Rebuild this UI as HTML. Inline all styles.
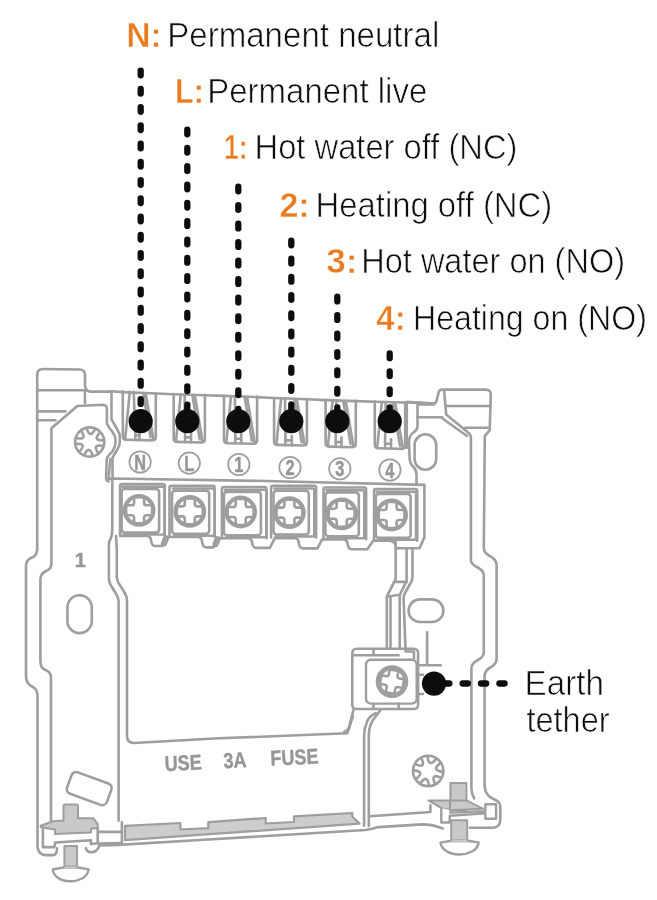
<!DOCTYPE html>
<html lang="en"><head><meta charset="utf-8"><title>Wiring terminals</title>
<style>
html,body{margin:0;padding:0;background:#fff}
svg{display:block}
text{font-family:"Liberation Sans",sans-serif}
.k{font-size:35.5px;fill:#0d0d0d;stroke:#fff;stroke-width:.7px}
.o{font-size:35.5px;fill:#ea7b20;font-weight:bold;stroke:#fff;stroke-width:.5px}
.g{fill:none;stroke:#9e9e9e;stroke-width:2.6;stroke-linecap:round;stroke-linejoin:round}
.gf{fill:#c9c9c9;stroke:#9e9e9e;stroke-width:2;stroke-linejoin:round}
.f{fill:#c5c5c5;stroke:none}
.gfo{fill:#cdcdcd;stroke:#9e9e9e;stroke-width:2.2;stroke-linejoin:round}
.g2{fill:none;stroke:#9e9e9e;stroke-width:2.4;stroke-linecap:round}
.w{fill:#fff;stroke:#9e9e9e;stroke-width:2.4;stroke-linejoin:round}
.d{fill:none;stroke:#0d0d0d;stroke-width:6.3;stroke-linecap:round}
.dot{fill:#0d0d0d}
.gt{fill:none;stroke:#9e9e9e;stroke-width:1.7}
.lab{font-size:21.5px;fill:#969696;stroke:#969696;stroke-width:.5px;font-weight:bold;text-anchor:middle}
.fu{font-size:21.5px;fill:#969696;stroke:#969696;stroke-width:.4px;font-weight:bold}
</style></head>
<body>
<svg width="657" height="900" viewBox="0 0 657 900">
<rect width="657" height="900" fill="#fff"/>
<g id="art" style="filter:opacity(1)">
<path class="g" d="M122.8 391.3V436.3Q122.8 439.8 126.3 439.8L152.3 440.40000000000003Q155.8 440.40000000000003 155.8 436.8V393.5"/>
<path class="g" d="M129.8 391.8L125.2 438.3"/>
<path class="g" d="M145.8 394.0L153.3 438.6"/>
<path class="g" d="M143.5 395.0L150.60000000000002 437.3"/>
<path class="g" d="M133.7 391.8L135.3 431.8V439.8"/>
<path class="g" d="M139.4 430.8V440.1"/>
<path class="g" d="M135.3 435.3H139.4"/>
<path class="g" d="M173.7 394.0V438.4Q173.7 441.9 177.2 441.9L201.4 442.5Q204.9 442.5 204.9 438.9V394.9"/>
<path class="g" d="M180.7 394.5L176.1 440.4"/>
<path class="g" d="M194.9 395.4L202.4 440.7"/>
<path class="g" d="M192.6 396.4L199.70000000000002 439.4"/>
<path class="g" d="M184.6 394.5L185.1 433.9V441.9"/>
<path class="g" d="M191.0 432.9V442.2"/>
<path class="g" d="M185.1 437.4H191.0"/>
<path class="g" d="M224.0 395.7V439.7Q224.0 443.2 227.5 443.2L253.60000000000002 443.8Q257.1 443.8 257.1 440.2V396.6"/>
<path class="g" d="M231.0 396.2L226.4 441.7"/>
<path class="g" d="M247.10000000000002 397.1L254.60000000000002 442.0"/>
<path class="g" d="M244.8 398.1L251.90000000000003 440.7"/>
<path class="g" d="M234.9 396.2L235.3 435.2V443.2"/>
<path class="g" d="M241.2 434.2V443.5"/>
<path class="g" d="M235.3 438.7H241.2"/>
<path class="g" d="M274.1 398.2V441.4Q274.1 444.9 277.6 444.9L303.4 445.5Q306.9 445.5 306.9 441.9V399.1"/>
<path class="g" d="M281.1 398.7L276.5 443.4"/>
<path class="g" d="M296.9 399.6L304.4 443.7"/>
<path class="g" d="M294.59999999999997 400.6L301.7 442.4"/>
<path class="g" d="M285.0 398.7L285.4 436.9V444.9"/>
<path class="g" d="M291.8 435.9V445.2"/>
<path class="g" d="M285.4 440.4H291.8"/>
<path class="g" d="M325.6 399.9V443.1Q325.6 446.6 329.1 446.6L352.3 447.20000000000005Q355.8 447.20000000000005 355.8 443.6V400.7"/>
<path class="g" d="M332.6 400.4L328.0 445.1"/>
<path class="g" d="M345.8 401.2L353.3 445.40000000000003"/>
<path class="g" d="M343.5 402.2L350.6 444.1"/>
<path class="g" d="M336.5 400.4L335.7 438.6V446.6"/>
<path class="g" d="M341.5 437.6V446.90000000000003"/>
<path class="g" d="M335.7 442.1H341.5"/>
<path class="g" d="M374.8 401.6V444.8Q374.8 448.3 378.3 448.3L401.7 448.90000000000003Q405.2 448.90000000000003 405.2 445.3V402.4"/>
<path class="g" d="M381.8 402.1L377.2 446.8"/>
<path class="g" d="M395.2 402.9L402.7 447.1"/>
<path class="g" d="M392.9 403.9L400.0 445.8"/>
<path class="g" d="M385.7 402.1L385.1 440.3V448.3"/>
<path class="g" d="M391.0 439.3V448.6"/>
<path class="g" d="M385.1 443.8H391.0"/>
<path class="g" d="M109 391.6Q111 391.6 111.5 391.2L123 392.1L156 393.5L174 394.2L205 395.2L224 395.9L257 397.1L274 398L307 399.3L326 400.1L356 401.1L375 401.8L405 402.5L416 402.7L433 403.5"/>
<circle class="gt" cx="140.1" cy="462.0" r="10.7"/>
<text class="lab" transform="translate(140.1 469.6) scale(.76 1)">N</text>
<circle class="gt" cx="189.3" cy="463.1" r="10.7"/>
<text class="lab" transform="translate(189.3 470.70000000000005) scale(.76 1)">L</text>
<circle class="gt" cx="238.8" cy="464.5" r="10.7"/>
<text class="lab" transform="translate(238.8 472.1) scale(.76 1)">1</text>
<circle class="gt" cx="290.0" cy="467.5" r="10.7"/>
<text class="lab" transform="translate(290.0 475.1) scale(.76 1)">2</text>
<circle class="gt" cx="339.8" cy="468.8" r="10.7"/>
<text class="lab" transform="translate(339.8 476.40000000000003) scale(.76 1)">3</text>
<circle class="gt" cx="389.9" cy="470.0" r="10.7"/>
<text class="lab" transform="translate(389.9 477.6) scale(.76 1)">4</text>
<path class="g" d="M120.1 535.6V486.1Q120.1 484.1 122.1 484.1H162.7Q164.7 484.1 164.7 486.1V535.6"/>
<path class="g" d="M122.6 486.8H163.1Q164.6 486.8 164.6 489.0V534.6"/>
<rect class="g" x="121.6" y="489.0" width="37.5" height="43.60000000000002" rx="3" />
<path class="g2" d="M123.6 534.6H163.1"/>
<circle class="g" cx="139.1" cy="510.3" r="15.1"/>
<circle class="g" cx="139.1" cy="510.3" r="13.5"/>
<path class="g" d="M134.1 497.3H144.1V502.7Q144.1 505.3 146.7 505.3H152.1V515.3H146.7Q144.1 515.3 144.1 517.9V523.3H134.1V517.9Q134.1 515.3 131.5 515.3H126.1V505.3H131.5Q134.1 505.3 134.1 502.7Z"/>
<path class="g" d="M169.5 536.8V487.8Q169.5 485.8 171.5 485.8H212.6Q214.6 485.8 214.6 487.8V536.8"/>
<path class="g" d="M173.0 488.5H213.2Q214.7 488.5 214.7 490.7V535.8"/>
<rect class="g" x="172.0" y="490.7" width="37.19999999999999" height="43.099999999999966" rx="3" />
<path class="g2" d="M174.0 535.8H213.2"/>
<circle class="g" cx="189.8" cy="511.4" r="15.1"/>
<circle class="g" cx="189.8" cy="511.4" r="13.5"/>
<path class="g" d="M184.8 498.4H194.8V503.79999999999995Q194.8 506.4 197.4 506.4H202.8V516.4H197.4Q194.8 516.4 194.8 519.0V524.4H184.8V519.0Q184.8 516.4 182.20000000000002 516.4H176.8V506.4H182.20000000000002Q184.8 506.4 184.8 503.79999999999995Z"/>
<path class="g" d="M221.9 538.3V489.0Q221.9 487.0 223.9 487.0H264.5Q266.5 487.0 266.5 489.0V538.3"/>
<path class="g" d="M224.9 489.7H264.9Q266.4 489.7 266.4 491.9V537.3"/>
<rect class="g" x="223.9" y="491.9" width="36.99999999999997" height="43.39999999999998" rx="3" />
<path class="g2" d="M225.9 537.3H264.9"/>
<circle class="g" cx="240.7" cy="512.0" r="15.1"/>
<circle class="g" cx="240.7" cy="512.0" r="13.5"/>
<path class="g" d="M235.7 499.0H245.7V504.4Q245.7 507.0 248.29999999999998 507.0H253.7V517.0H248.29999999999998Q245.7 517.0 245.7 519.6V525.0H235.7V519.6Q235.7 517.0 233.1 517.0H227.7V507.0H233.1Q235.7 507.0 235.7 504.4Z"/>
<path class="g" d="M271.1 537.5V487.8Q271.1 485.8 273.1 485.8H314.1Q316.1 485.8 316.1 487.8V537.5"/>
<path class="g" d="M274.5 488.5H312.8Q314.3 488.5 314.3 490.7V536.5"/>
<rect class="g" x="273.5" y="490.7" width="35.30000000000001" height="43.80000000000001" rx="3" />
<path class="g2" d="M275.5 536.5H312.8"/>
<circle class="g" cx="289.4" cy="512.6" r="15.1"/>
<circle class="g" cx="289.4" cy="512.6" r="13.5"/>
<path class="g" d="M284.4 499.6H294.4V505.0Q294.4 507.6 297.0 507.6H302.4V517.6H297.0Q294.4 517.6 294.4 520.2V525.6H284.4V520.2Q284.4 517.6 281.79999999999995 517.6H276.4V507.6H281.79999999999995Q284.4 507.6 284.4 505.0Z"/>
<path class="g" d="M323.5 539.2V489.5Q323.5 487.5 325.5 487.5H364.1Q366.1 487.5 366.1 489.5V539.2"/>
<path class="g" d="M326.4 490.2H362.8Q364.3 490.2 364.3 492.4V538.2"/>
<rect class="g" x="325.4" y="492.4" width="33.400000000000034" height="43.80000000000007" rx="3" />
<path class="g2" d="M327.4 538.2H362.8"/>
<circle class="g" cx="341.7" cy="513.8" r="15.1"/>
<circle class="g" cx="341.7" cy="513.8" r="13.5"/>
<path class="g" d="M336.7 500.79999999999995H346.7V506.19999999999993Q346.7 508.79999999999995 349.3 508.79999999999995H354.7V518.8H349.3Q346.7 518.8 346.7 521.4V526.8H336.7V521.4Q336.7 518.8 334.09999999999997 518.8H328.7V508.79999999999995H334.09999999999997Q336.7 508.79999999999995 336.7 506.19999999999993Z"/>
<path class="g" d="M374.1 540.7V491.0Q374.1 489.0 376.1 489.0H415.2Q417.2 489.0 417.2 491.0V540.7"/>
<path class="g" d="M376.8 491.7H414.6Q416.1 491.7 416.1 493.9V539.7"/>
<rect class="g" x="375.8" y="493.9" width="34.80000000000001" height="43.80000000000007" rx="3" />
<path class="g2" d="M377.8 539.7H414.6"/>
<circle class="g" cx="391.6" cy="515.0" r="15.1"/>
<circle class="g" cx="391.6" cy="515.0" r="13.5"/>
<path class="g" d="M386.6 502.0H396.6V507.4Q396.6 510.0 399.20000000000005 510.0H404.6V520.0H399.20000000000005Q396.6 520.0 396.6 522.6V528.0H386.6V522.6Q386.6 520.0 384.0 520.0H378.6V510.0H384.0Q386.6 510.0 386.6 507.4Z"/>
<path class="g" d="M108.9 478.9L112.3 478.5L265 481L424.4 484.9V537.4L419.5 548.3H396"/>
<path class="g" d="M120.1 536H147.6Q150.5 536.5 151 540Q151.5 545.8 155 546H162.2L165.9 537H198.8Q201.5 537.5 202 541Q202.5 547.2 206 547.4H213.4L217.5 538.2H248.7Q251.5 538.7 252 542Q252.5 547.7 256 547.9H269.9L274.7 538.2H295.4Q298.2 538.7 298.7 542Q299.2 548.2 302.7 548.4H317.4L322.2 539.4H344.2Q347 539.9 347.5 543.2Q348 549 351.5 549.2H367.3L373.4 540.6H389.2Q395.3 541 395.7 546"/>
<rect class="g" x="163.2" y="536.3" width="3.6" height="9" rx="1.8" transform="rotate(22 165.0 540.8)"/>
<rect class="g" x="214.79999999999998" y="537.1" width="3.6" height="9" rx="1.8" transform="rotate(22 216.6 541.6)"/>
<circle class="g" cx="89.7" cy="442.0" r="14.6"/>
<path class="g" d="M102.6 446.1Q92.1 443.7 98.0 452.8M92.6 455.3Q89.4 444.9 84.5 454.6M79.7 451.2Q87.1 443.2 76.2 443.8M76.8 437.9Q87.3 440.3 81.4 431.2M86.8 428.7Q90.0 439.1 94.9 429.4M99.7 432.8Q92.3 440.8 103.2 440.2"/>
<circle class="g" cx="428.2" cy="771.0" r="15.2"/>
<path class="g" d="M440.7 777.6Q430.3 773.1 434.8 783.5M428.8 785.1Q427.4 773.9 420.6 782.9M416.3 778.6Q425.3 771.8 414.1 770.4M415.7 764.4Q426.1 768.9 421.6 758.5M427.6 756.9Q429.0 768.1 435.8 759.1M440.1 763.4Q431.1 770.2 442.3 771.6"/>
<path class="g" d="M37.2 549Q37 556 31 558Q26.2 560 26 566V676Q26.2 683 31 686Q37 688 37.5 695V846.8Q38.6 855 46 855.1H52.9Q57 855 57 848.2"/>
<path class="g" d="M37.2 549V375Q37.2 369 43 369L79.4 369.5Q85 369.6 85 375V384.7Q85 391.6 91.2 391.6H109"/>
<path class="g" d="M37.4 390.2H84.9V403.5"/>
<path class="g" d="M37.4 411.4H65.5M37.4 420.3H55.6"/>
<path class="g" d="M51 820.8V678Q51 672 45.5 670Q40.4 668 40.4 661.3V579Q40.4 574 46 571Q51.4 569 51.4 563.8V428.2L77.4 406L103.1 404.7Q106.9 404.7 106.9 409.4V423.5Q108.5 427.5 112.3 431.7Q115.6 436 115.6 441Q115.6 446.5 112.5 451.5Q107.5 456 106.7 459L106.1 477.5Q106.2 481 108.6 481.4"/>
<path class="g" d="M111.5 391.2V419.5Q114.5 424 119.3 433.5Q120.6 441 119 446Q116.8 451.5 112.5 457.5V478.5"/>
<path class="g" d="M110.3 459L108.6 478"/>
<text class="fu" style="font-size:20px" x="74.8" y="566.5">1</text>
<rect class="g" x="67.4" y="595.3" width="24.4" height="37.8" rx="12.2" />
<path class="g" d="M112.3 480V529.4Q112 537 110 540Q108.9 542 108.9 545.2V579Q109 582.8 111.5 586.5L116.5 594.5Q118.6 598 118.6 601V820.8"/>
<path class="g" d="M116 536L116.8 549.1V577.5Q117 580.8 119.5 584.5L124.5 592.5Q126.9 596.6 127 600V736Q127 743 134 743L219 738.3L347.3 733.3L353 716"/>
<path class="g" d="M391.8 539.4Q395.7 540 395.7 543.3V578.9L386.8 596.7V648"/>
<path class="g" d="M395.7 581.9H406.6M386.8 596.7L397.7 595"/>
<path class="g" d="M406.6 549.3V580.9L399.7 595V648"/>
<path class="g" d="M412.5 549.3V577Q412.5 581 410 584L405.5 592Q403.6 595 403.6 599L405.6 651.5H414V658.4"/>
<path class="g" d="M390.5 597V648"/>
<rect class="g" x="352.3" y="648.8" width="65.8" height="60.2" rx="4" />
<rect class="w" x="366" y="659.7" width="50.7" height="43.9" rx="5" />
<path class="g" d="M353 655.3H398.6M373.5 649.3V655.3M373.5 704V709M398.6 704V709"/>
<circle class="g" cx="392" cy="681.6" r="15.0"/>
<circle class="g" cx="392" cy="681.6" r="12.8"/>
<g transform="rotate(10 392 681.8)">
<path class="g" d="M387.6 670.1H396.4V675.2Q396.4 677.2 398.4 677.2H403.5V686.0H398.4Q396.4 686.0 396.4 688.0V693.1H387.6V688.0Q387.6 686.0 385.6 686.0H380.5V677.2H385.6Q387.6 677.2 387.6 675.2Z"/>
</g>
<path class="g" d="M427.1 632.3V665.2M419.5 665.2H440.8M418.1 674.8H423M418.1 694H423"/>
<path class="g" d="M353.7 709L349 727Q348 731 344 732"/>
<path class="g" d="M375.6 713.2Q369 716 367 722Q364.1 728 364.1 735V825.8"/>
<path class="g" d="M381 709.5Q376 716 373 720Q368.8 727 368.8 735V826"/>
<path class="g" d="M407.2 401.9L433.3 403.5Q436 403.5 436.5 401L438.7 392Q439.3 389.6 443.2 389.6H485.5Q490.9 389.6 490.8 395L489.7 430.2L484.8 436.1L483.8 548Q483.8 552.5 489 555.5Q496.4 559 496.6 565V659Q496.4 664 491 667Q484.6 670.5 484.6 676V786Q485 793 490 797Q496 800 499 802.5Q500.3 804 500.3 807V820Q500 827.3 493 827.8H470"/>
<path class="g" d="M444.2 391.6L446.2 414.4L469 433.2Q470.9 435 470.9 438V560Q471 564 476 566.5Q483.6 570 483.8 575V653Q483.6 657 478 660Q471.4 663.5 471.4 668V788Q471.5 794 474.2 798.4"/>
<path class="g" d="M446.2 406H489.7M465 427.8H487.7"/>
<path class="g" d="M442.2 418.3L467 436"/>
<path class="g" d="M418.5 404.5H434M417.5 417.3H442.2"/>
<path class="g" d="M406.8 403V448"/>
<path class="g" d="M417.5 404.5V426Q417.5 430 414 432Q409.5 435 409 441L409.6 458Q410 464 413.5 467Q416.5 470 416.5 475V483.6"/>
<rect class="g" x="414.6" y="434.3" width="21.6" height="35.4" rx="10.8" />
<rect class="g" x="408.6" y="599.4" width="34.8" height="22.6" rx="11.3" />
<path class="g" d="M85.8 848.2Q87 852.3 91 852.3Q97 852.3 99.5 845.5L118.6 844.9L200 840L365.7 830Q372 829 378.4 827.1L422.2 824.4Q433 824.5 442.7 828.5"/>
<path class="gfo" d="M125 825.8L180.4 823V829.5L208.3 828.2V822.2L265.7 818V823.5L294 822V816.4L352.3 813V816.5L359.5 823.6L125 840.2Z"/>
<path class="g" d="M121.9 822V843.5"/>
<path class="g" d="M370.1 816.2L430.4 812V805.2"/>
<path class="gf" d="M63.5 806Q63.5 804.5 65 804.5H76.5Q78 804.5 78 806V818.2H93.2L97.7 824.2V828L90.9 828.8V832.6L55.1 834.1V829.6L40.7 827.3V825.8L52.8 821.2L63.5 820.4Z"/>
<path class="g" d="M42.9 829.6V847.1H54.4L55.1 842.5L90.9 840.2V844L97.7 843.3V828"/>
<path class="g" d="M98.5 831.9H121M98.5 843.6L121 843"/>
<rect class="gf" x="64.4" y="846" width="12.6" height="20.5" rx="0" />
<path class="w" d="M52.8 869.5Q70 865 88.6 869.3Q88 875 82 878.5Q76 881.5 70 881.3Q62 881 57.5 877.5Q53 874 52.8 869.5Z"/>
<path class="f" d="M64.4 866.5H77V869H64.4Z"/>
<rect class="g" x="-21.2" y="-11.4" width="42.4" height="22.8" rx="5" transform="translate(89.2 788.6) rotate(20)"/>
<rect class="gf" x="450.4" y="782.9" width="16" height="27" rx="0" />
<path class="gf" d="M428.4 800.4H450.4L449.7 810.3L441.5 808.2Z"/>
<path class="gf" d="M466.4 800.4L483.2 808.8L449.7 810.3L450.4 800.4Z"/>
<path class="w" d="M441.3 808V822.5H449.7V815.7L485.4 813.4V818.7H496.1V804.2H485.4V811.1L450.4 812.6V810.3"/>
<rect class="gf" x="451.2" y="820.2" width="16" height="21.3" rx="0" />
<path class="w" d="M440.5 842.6Q459 838.5 478.6 842.4Q478.3 847.5 473 851Q466 854.7 459 854.5Q451 854.3 446 850.7Q441 847.5 440.5 842.6Z"/>
<path class="f" d="M451.2 840H467.2V842.6H451.2Z"/>
<text class="fu" transform="translate(165 771.2) rotate(-2.9) scale(.84 1)"><tspan>USE</tspan><tspan x="70">3A</tspan><tspan x="126">FUSE</tspan></text>
</g>
<g id="leaders">
<path class="d" stroke-dasharray="4.70 13.56" d="M140.7 70.55V421"/>
<circle class="dot" cx="140.7" cy="421.2" r="12.1"/>
<path class="d" stroke-dasharray="4.70 13.64" d="M187.3 129.55V421"/>
<circle class="dot" cx="187.3" cy="421.2" r="12.1"/>
<path class="d" stroke-dasharray="4.70 13.82" d="M238.3 186.65V421"/>
<circle class="dot" cx="238.3" cy="421.2" r="12.1"/>
<path class="d" stroke-dasharray="4.70 13.50" d="M291.3 240.55V421"/>
<circle class="dot" cx="291.3" cy="421.2" r="12.1"/>
<path class="d" stroke-dasharray="4.70 13.73" d="M337.3 296.75V421"/>
<circle class="dot" cx="337.3" cy="421.2" r="12.1"/>
<path class="d" stroke-dasharray="4.70 13.27" d="M389.7 353.45V421"/>
<circle class="dot" cx="389.7" cy="421.2" r="12.1"/>
<path class="d" stroke-dasharray="5.2 13.2" d="M504.6 683.5H434"/>
<circle class="dot" cx="434" cy="683.6" r="12.1"/>
</g>
<g id="labels" style="filter:opacity(1)">
<text class="o" transform="translate(126.49 46.7) scale(0.9355 1)">N:</text>
<text class="k" transform="translate(167.2 46.7) scale(0.9321 1)">Permanent neutral</text>
<text class="o" transform="translate(175.11 103.3) scale(0.863 1)">L:</text>
<text class="k" transform="translate(207.21 103.3) scale(0.9297 1)">Permanent live</text>
<text class="o" transform="translate(224.06 159.3) scale(0.748 1)">1:</text>
<text class="k" transform="translate(254.54 159.3) scale(0.9214 1)">Hot water off (NC)</text>
<text class="o" transform="translate(279.38 216.7) scale(0.9615 1)">2:</text>
<text class="k" transform="translate(315.52 216.7) scale(0.9256 1)">Heating off (NC)</text>
<text class="o" transform="translate(326.31 273.3) scale(0.9889 1)">3:</text>
<text class="k" transform="translate(361.25 273.3) scale(0.9163 1)">Hot water on (NO)</text>
<text class="o" transform="translate(376.37 330.0) scale(0.9259 1)">4:</text>
<text class="k" transform="translate(412.98 330.0) scale(0.9051 1)">Heating on (NO)</text>
<text class="k" transform="translate(524.49 695.4) scale(0.9367 1)">Earth</text>
<text class="k" transform="translate(526.38 732.2) scale(0.918 1)">tether</text>
</g>
</svg>
</body></html>
